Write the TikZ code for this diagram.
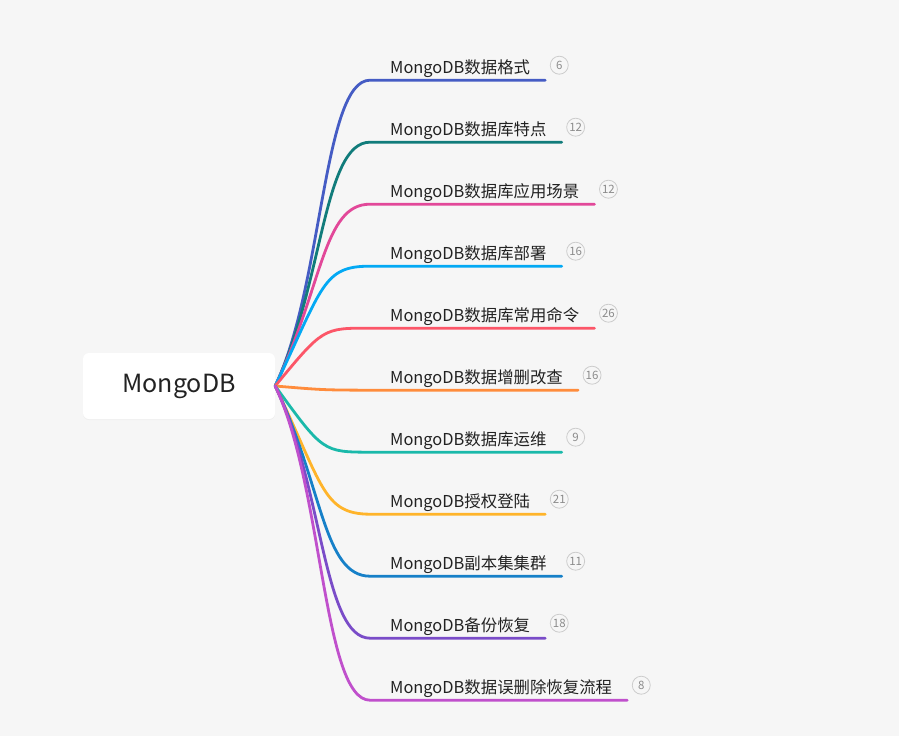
\documentclass[tikz,border=0pt]{standalone}
\usepackage{fontspec}
\setmainfont{Noto Sans CJK SC}
\usetikzlibrary{shadows}
\definecolor{bgc}{RGB}{246,246,246}
\definecolor{txtc}{RGB}{34,34,34}
\definecolor{br1}{RGB}{69,92,196}
\definecolor{br2}{RGB}{17,124,123}
\definecolor{br3}{RGB}{226,72,153}
\definecolor{br4}{RGB}{3,169,244}
\definecolor{br5}{RGB}{252,86,104}
\definecolor{br6}{RGB}{255,140,60}
\definecolor{br7}{RGB}{26,185,170}
\definecolor{br8}{RGB}{255,180,42}
\definecolor{br9}{RGB}{22,128,200}
\definecolor{br10}{RGB}{122,76,200}
\definecolor{br11}{RGB}{192,80,204}
\tikzset{
  rootbox/.style = {fill=white, rounded corners=6pt, minimum width=192pt,
    minimum height=66pt, font=\fontsize{25}{29}\selectfont, text=txtc,
    drop shadow={opacity=0.06, shadow xshift=0pt, shadow yshift=-1pt}},
  leaf/.style = {inner sep=0pt, text depth=7pt, font=\fontsize{16.4}{19}\selectfont, text=txtc},
  badge/.style = {circle, draw=black!20, line width=0.8pt, fill=bgc, minimum size=18pt,
    inner sep=0pt, font=\fontsize{11.5}{13}\selectfont, text=black!45},
  branch/.style = {line width=2.8pt, line cap=round}
}
\begin{document}
\begin{tikzpicture}[x=1pt, y=-1pt]
	\fill[bgc] (0,0) rectangle (899,736);
	\useasboundingbox (0,0) rectangle (899,736);
	\node[rootbox] (root) at (179,386) {MongoDB};
	\foreach \i/\y/\c/\txt/\n in {
		1/80/286/MongoDB数据格式/6,
		2/142/286/MongoDB数据库特点/12,
		3/204/286/MongoDB数据库应用场景/12,
		4/266/286/MongoDB数据库部署/16,
		5/328/328/MongoDB数据库常用命令/26,
		6/390/390/MongoDB数据增删改查/16,
		7/452/452/MongoDB数据库运维/9,
		8/514/486/MongoDB授权登陆/21,
		9/576/486/MongoDB副本集集群/11,
		10/638/486/MongoDB备份恢复/18,
		11/700/486/MongoDB数据误删除恢复流程/8} {
		\node[leaf, anchor=base west] (b\i) at (390,\y-7) {\txt};
		\draw[branch, br\i] (root.east) .. controls (323,\c) and (323,\y) .. ([xshift=-20pt]b\i.south west) -- ([xshift=15pt]b\i.south east);
		\node[badge] (n\i) at ([xshift=29pt,yshift=15pt]b\i.south east) {\n};
	}
\end{tikzpicture}
\end{document}
